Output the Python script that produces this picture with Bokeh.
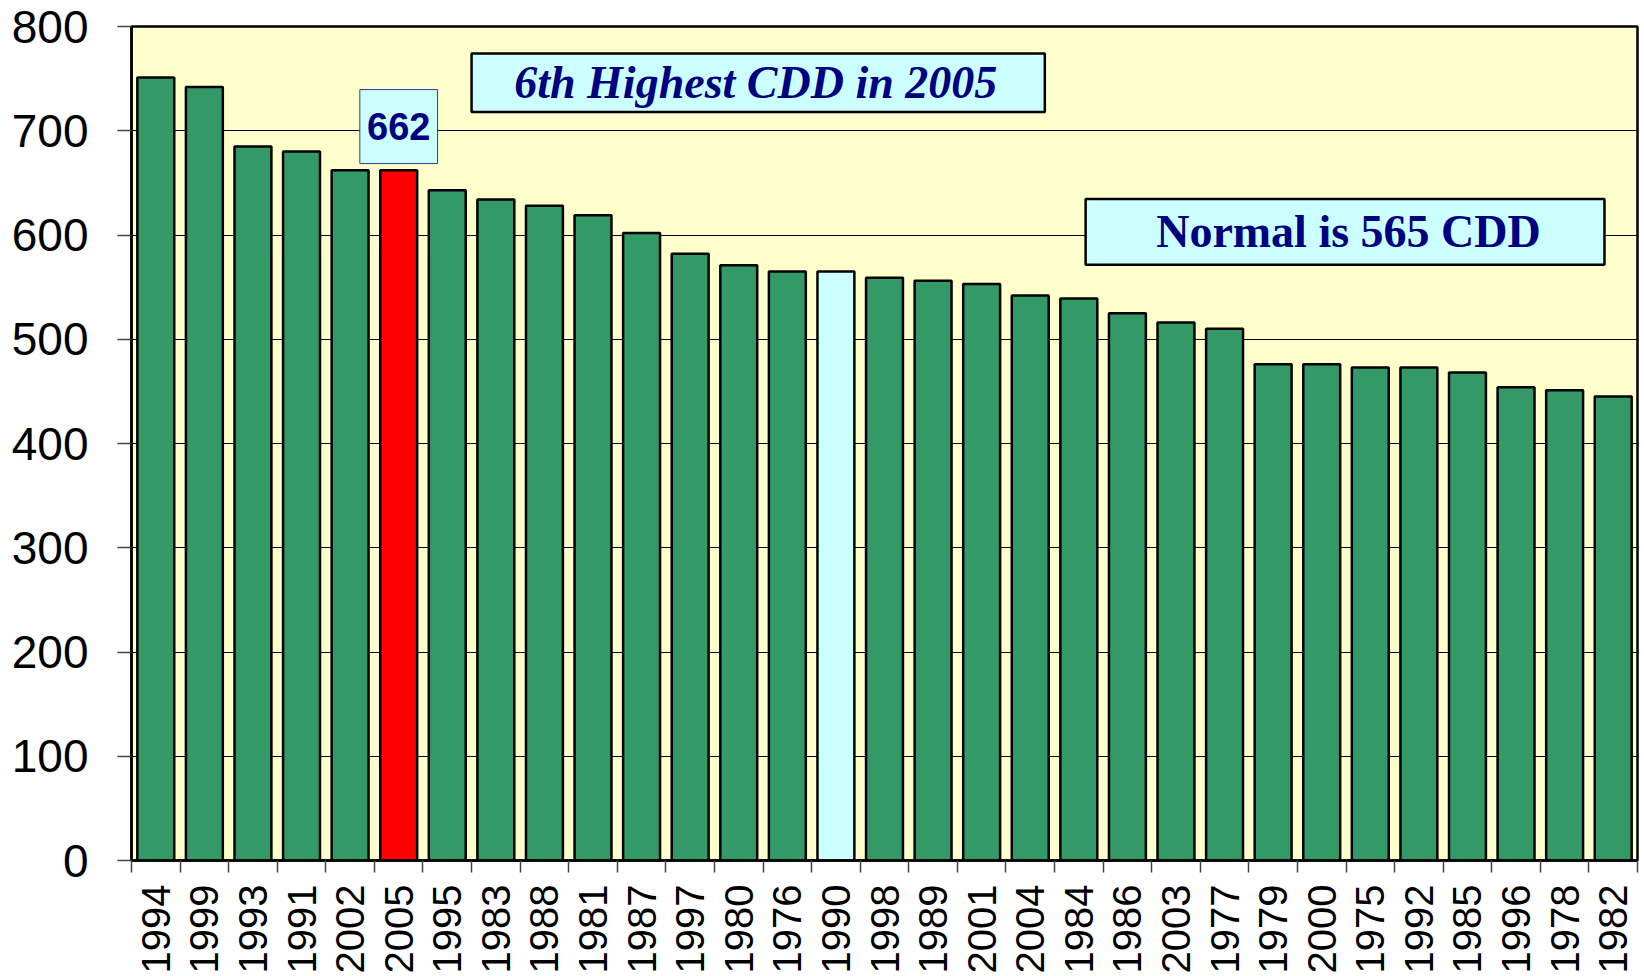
import math
from bokeh.plotting import figure
from bokeh.models import ColumnDataSource, Range1d, FixedTicker
from bokeh.core.properties import value
from bokeh.embed import file_html
from bokeh.resources import INLINE

# ---- data ----
years = ["1994", "1999", "1993", "1991", "2002", "2005", "1995", "1983", "1988", "1981",
         "1987", "1997", "1980", "1976", "1990", "1998", "1989", "2001", "2004", "1984",
         "1986", "2003", "1977", "1979", "2000", "1975", "1992", "1985", "1996", "1978", "1982"]
cdd = [751, 742, 685, 680, 662, 662, 643, 634, 628, 619,
       602, 582, 571, 565, 565, 559, 556, 553, 542, 539,
       525, 516, 510, 476, 476, 473, 473, 468, 454, 451, 445]
highlight_year = "2005"
normal_year = "1990"
y_ticks = [0, 100, 200, 300, 400, 500, 600, 700, 800]
title_text = "6th Highest CDD in 2005"
normal_text = "Normal is 565 CDD"

GREEN = "#339966"
RED = "#FF0000"
CYAN = "#CCFFFF"
NAVY = "#000080"

idx = list(range(len(years)))
colors = [RED if y == highlight_year else (CYAN if y == normal_year else GREEN) for y in years]
src = ColumnDataSource(dict(x=idx, top=cdd, color=colors))

p = figure(width=1644, height=976, output_backend="svg", toolbar_location=None,
           x_range=Range1d(-0.5, len(years) - 0.5), y_range=Range1d(0, 800),
           min_border_left=131, min_border_top=26, min_border_right=7, min_border_bottom=10)
p.background_fill_color = "#FFFFCC"
p.border_fill_color = "white"
p.outline_line_color = "black"
p.outline_line_width = 2.5

p.vbar(x="x", top="top", width=0.76, source=src, fill_color="color",
       line_color="black", line_width=2.5)

# y axis
p.yaxis.ticker = FixedTicker(ticks=y_ticks)
p.yaxis.major_label_text_font = "Liberation Sans"
p.yaxis.major_label_text_font_size = "46px"
p.yaxis.major_label_text_color = "black"
p.yaxis.major_tick_out = 14
p.yaxis.major_tick_in = 0
p.yaxis.major_tick_line_color = "#444444"
p.yaxis.major_tick_line_width = 1.5
p.yaxis.minor_tick_line_color = None
p.yaxis.major_label_standoff = 29
p.yaxis.axis_line_color = "black"
p.yaxis.axis_line_width = 2.5

# x axis: labels at bar centres, ticks at bar boundaries
p.xaxis.ticker = FixedTicker(ticks=idx, minor_ticks=[i - 0.5 for i in range(len(years) + 1)])
p.xaxis.major_label_overrides = {i: y for i, y in zip(idx, years)}
p.xaxis.major_label_orientation = math.pi / 2
p.xaxis.major_label_text_font = "Liberation Sans"
p.xaxis.major_label_text_font_size = "40px"
p.xaxis.major_label_text_color = "black"
p.xaxis.major_tick_line_color = None
p.xaxis.major_tick_out = 12
p.xaxis.major_tick_in = 0
p.xaxis.minor_tick_out = 12
p.xaxis.minor_tick_in = 0
p.xaxis.minor_tick_line_color = "#444444"
p.xaxis.minor_tick_line_width = 1.5
p.xaxis.major_label_standoff = 12
p.xaxis.axis_line_color = "black"
p.xaxis.axis_line_width = 2.5

p.xgrid.grid_line_color = None
p.ygrid.ticker = FixedTicker(ticks=y_ticks[1:-1])
p.ygrid.grid_line_color = "black"
p.ygrid.grid_line_width = 1

# ---- annotations ----
hi = years.index(highlight_year)
hv = cdd[hi]
p.rect(x=[hi], y=[hv + 42], width=1.6, height=71, fill_color=CYAN,
       line_color="#3333AA", line_width=1)
p.text(x=[hi], y=[hv + 42], text=[str(hv)], text_align="center", text_baseline="middle",
       text_font=value("Liberation Sans"), text_font_style="bold",
       text_font_size="38px", text_color=NAVY)

p.rect(x=[12.4], y=[746], width=11.8, height=56, fill_color=CYAN,
       line_color="black", line_width=2.5)
p.text(x=[12.35], y=[746], text=[title_text], text_align="center", text_baseline="middle",
       text_font=value("Liberation Serif"), text_font_style="bold italic",
       text_font_size="46px", text_color=NAVY)

p.rect(x=[24.48], y=[603], width=10.68, height=63, fill_color=CYAN,
       line_color="black", line_width=2.5)
p.text(x=[24.55], y=[603], text=[normal_text], text_align="center", text_baseline="middle",
       text_font=value("Liberation Serif"), text_font_style="bold",
       text_font_size="46px", text_color=NAVY)

open("out.html", "w").write(file_html(p, INLINE))
